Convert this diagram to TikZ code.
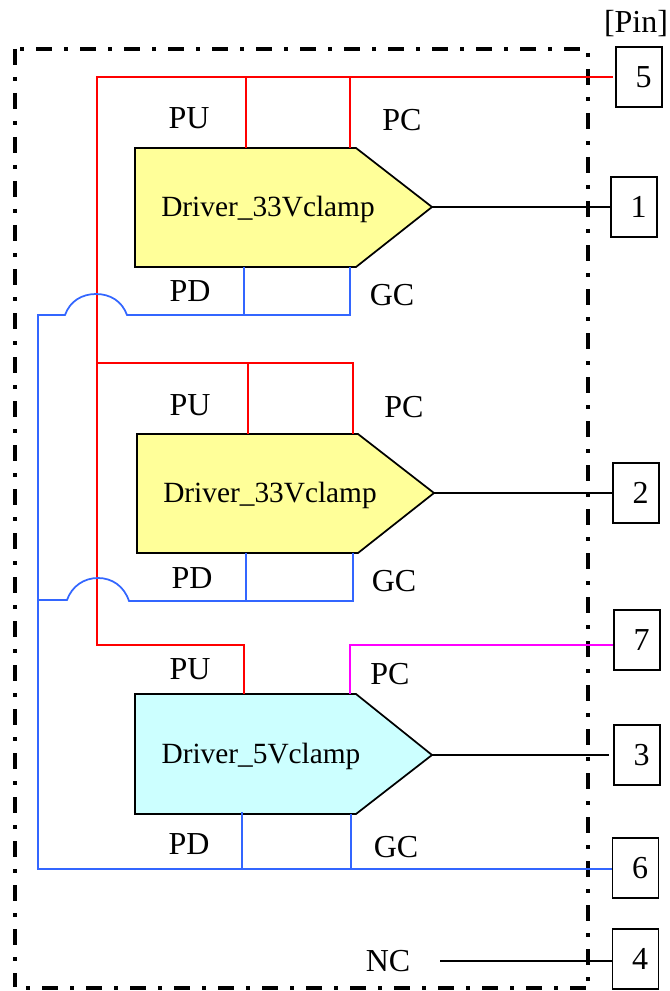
\documentclass[tikz,border=0pt]{standalone}
\usepackage{fontspec}
\setmainfont{Liberation Serif}
\definecolor{wred}{RGB}{255,0,0}
\definecolor{wblue}{RGB}{51,102,255}
\definecolor{wmag}{RGB}{255,0,255}
\definecolor{wyel}{RGB}{255,255,153}
\definecolor{wcya}{RGB}{204,255,255}
\tikzset{
 pinbox/.style={draw=black,line width=1.1pt,minimum width=46*0.75pt,minimum height=60*0.75pt,inner sep=0pt,font=\fontsize{24}{26}\selectfont,text=black},
 lab/.style={inner sep=0pt,font=\fontsize{24}{26}\selectfont,text=black},
 drvlab/.style={inner sep=0pt,font=\fontsize{22}{24}\selectfont,text=black},
 redw/.style={draw=wred,line width=1.3pt},
 bluew/.style={draw=wblue,line width=1.3pt},
 magw/.style={draw=wmag,line width=1.3pt},
 blkw/.style={draw=black,line width=1.3pt},
 drv/.style={draw=black,line width=1.3pt},
 frameside/.style={draw=black,line width=3pt},
}
\newcommand{\dg}[1]{\hspace*{7pt}#1}
\begin{document}
\begin{tikzpicture}[x=0.75pt,y=-0.75pt]
\useasboundingbox (0,0) rectangle (669,991);
% frame
\draw[frameside,dash pattern=on 3pt off 9pt on 12pt off 9pt] (20,49) -- (587,49);
\draw[frameside,dash pattern=on 3pt off 9pt on 12pt off 9pt] (588,53) -- (588,987);
\draw[frameside,dash pattern=on 3pt off 9pt on 12pt off 9pt] (26,988) -- (587,988);
\draw[frameside,dash pattern=on 12pt off 9pt on 3pt off 9pt] (15,49) -- (15,987);
% pins
\node[pinbox] (p5) at (639,77) {\dg{5}};
\node[pinbox] (p1) at (634,207) {\dg{1}};
\node[pinbox] (p2) at (636,493) {\dg{2}};
\node[pinbox] (p7) at (637,640) {\dg{7}};
\node[pinbox] (p3) at (637,755) {\dg{3}};
\node[pinbox] (p6) at (635.5,868) {\dg{6}};
\node[pinbox] (p4) at (635.5,959) {\dg{4}};
\node[lab] (pin) at (636,24) {[Pin]};
% drivers
\draw[drv,fill=wyel] (135,148) -- (356,148) -- (432,207) coordinate (o1) -- (356,267) -- (135,267) -- cycle;
\node[drvlab] (d1) at (268,209) {Driver\_33Vclamp};
\draw[drv,fill=wyel] (137,434) -- (358,434) -- (434,493) coordinate (o2) -- (358,553) -- (137,553) -- cycle;
\node[drvlab] (d2) at (270,495) {Driver\_33Vclamp};
\draw[drv,fill=wcya] (135,694) -- (356,694) -- (432,755) coordinate (o3) -- (356,814) -- (135,814) -- cycle;
\node[drvlab] (d3) at (261,756) {Driver\_5Vclamp};
% labels
\node[lab] (l1) at (189,118) {PU};
\node[lab] (l2) at (402,120) {PC};
\node[lab] (l3) at (190,291) {PD};
\node[lab] (l4) at (392,295) {GC};
\node[lab] (l5) at (190,405) {PU};
\node[lab] (l6) at (404,407) {PC};
\node[lab] (l7) at (192,578) {PD};
\node[lab] (l8) at (394,581) {GC};
\node[lab] (l9) at (190,669) {PU};
\node[lab] (l10) at (390,674) {PC};
\node[lab] (l11) at (189,844) {PD};
\node[lab] (l12) at (396,847) {GC};
\node[lab] (nc) at (388,961) {NC};
% red
\draw[redw,shorten <=2pt] (p5.west) -- (97,77) -- (97,645) -- (244,645) -- (244,694);
\draw[redw] (246,77) -- (246,148);
\draw[redw] (350,77) -- (350,148);
\draw[redw] (97,363) -- (353,363) -- (353,434);
\draw[redw] (248,363) -- (248,434);
% magenta
\draw[magw] (p7.west |- 0,645) -- (350,645) -- (350,694);
% blue
\draw[bluew] (p6.west |- 0,869) -- (38,869) -- (38,315) -- (65,315) .. controls (70,301) and (82,294) .. (96,294) .. controls (110,294) and (122,301) .. (127,315) -- (350,315) -- (350,267);
\draw[bluew] (244,267) -- (244,315);
\draw[bluew] (38,600) -- (67,600) .. controls (72,586) and (84,578) .. (98,578) .. controls (112,578) and (124,586) .. (129,601) -- (353,601) -- (353,553);
\draw[bluew] (246,553) -- (246,601);
\draw[bluew] (242,812) -- (242,869);
\draw[bluew] (351,814) -- (351,869);
% black
\draw[blkw] (o1) -- (p1.west);
\draw[blkw] (o2) -- (p2.west);
\draw[blkw,shorten >=3pt] (o3) -- (p3.west);
\coordinate (ncend) at (440,961);
\draw[blkw] (ncend) -- (p4.west |- ncend);
\end{tikzpicture}
\end{document}
